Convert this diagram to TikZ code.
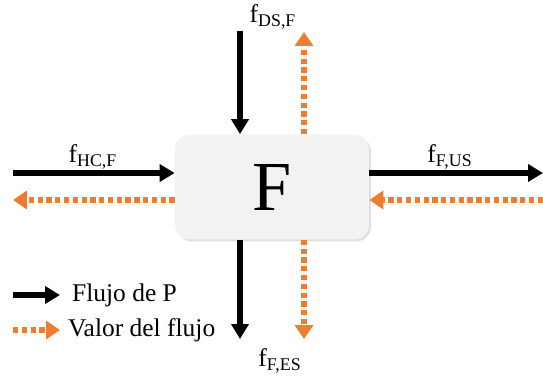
\documentclass[tikz,border=0pt]{standalone}
\usepackage{fontspec}
\setmainfont{Liberation Serif}
\usepackage{tikz}
\usetikzlibrary{arrows.meta, positioning, shadows}
\definecolor{valororange}{HTML}{ED7D31}
\definecolor{cajagray}{HTML}{F2F2F2}
\newcommand{\fflujo}[1]{f\textsubscript{#1}}

\begin{document}
\begin{tikzpicture}[x=0.02cm, y=-0.02cm,
  flujo/.style={line width=3pt, -{Triangle[length=0.3cm, width=0.34cm]}},
  valor/.style={line width=3pt, valororange, dash pattern=on 3pt off 2pt,
    -{Triangle[length=0.28cm, width=0.36cm]}},
  caja/.style={fill=cajagray, rounded corners=0.3cm, minimum width=3.88cm,
    minimum height=2.1cm, inner sep=0pt,
    drop shadow={opacity=0.25, shadow xshift=0.04cm, shadow yshift=-0.04cm}},
  etiqueta/.style={font=\fontsize{14.5}{16}\selectfont, inner sep=1pt}]
  \useasboundingbox (0,0) rectangle (543,375);

  %--- central box ---
  \node[caja] (F) at (272,187) {\fontsize{40}{42}\selectfont F};

  %--- flows of P (black) ---
  \coordinate (hcin)  at (13,173);
  \coordinate (usout) at (543,173);
  \coordinate (dsin)  at (240,31);
  \coordinate (esout) at (240,339);
  \draw[flujo] (hcin) -- (F.west |- hcin);
  \draw[flujo] (F.east |- usout) -- (usout);
  \draw[flujo] (dsin) -- (dsin |- F.north);
  \draw[flujo] (esout |- F.south) -- (esout);

  %--- flow values (orange, dotted) ---
  \coordinate (vhc) at (13,200);
  \coordinate (vus) at (543,200);
  \coordinate (vds) at (304,32);
  \coordinate (ves) at (304,339);
  \draw[valor] (F.west |- vhc) -- (vhc);
  \draw[valor] (vus) -- (F.east |- vus);
  \draw[valor] (vds |- F.north) -- (vds);
  \draw[valor] (ves |- F.south) -- (ves);

  %--- labels ---
  \node[etiqueta] (lhc) at (93,157)  {\fflujo{HC,F}};
  \node[etiqueta] (lus) at (450,157) {\fflujo{F,US}};
  \node[etiqueta] (lds) at (273,17)  {\fflujo{DS,F}};
  \node[etiqueta] (les) at (280,361) {\fflujo{F,ES}};

  %--- legend ---
  \coordinate (legPa) at (13,295);
  \coordinate (legPb) at (60,295);
  \coordinate (legVa) at (13,330);
  \coordinate (legVb) at (60,330);
  \draw[flujo] (legPa) -- (legPb);
  \draw[valor] (legVa) -- (legVb);
  \node[etiqueta, anchor=west] (legP) at (70,295) {Flujo de P};
  \node[etiqueta, anchor=west] (legV) at (66,330) {Valor del flujo};
\end{tikzpicture}
\end{document}
